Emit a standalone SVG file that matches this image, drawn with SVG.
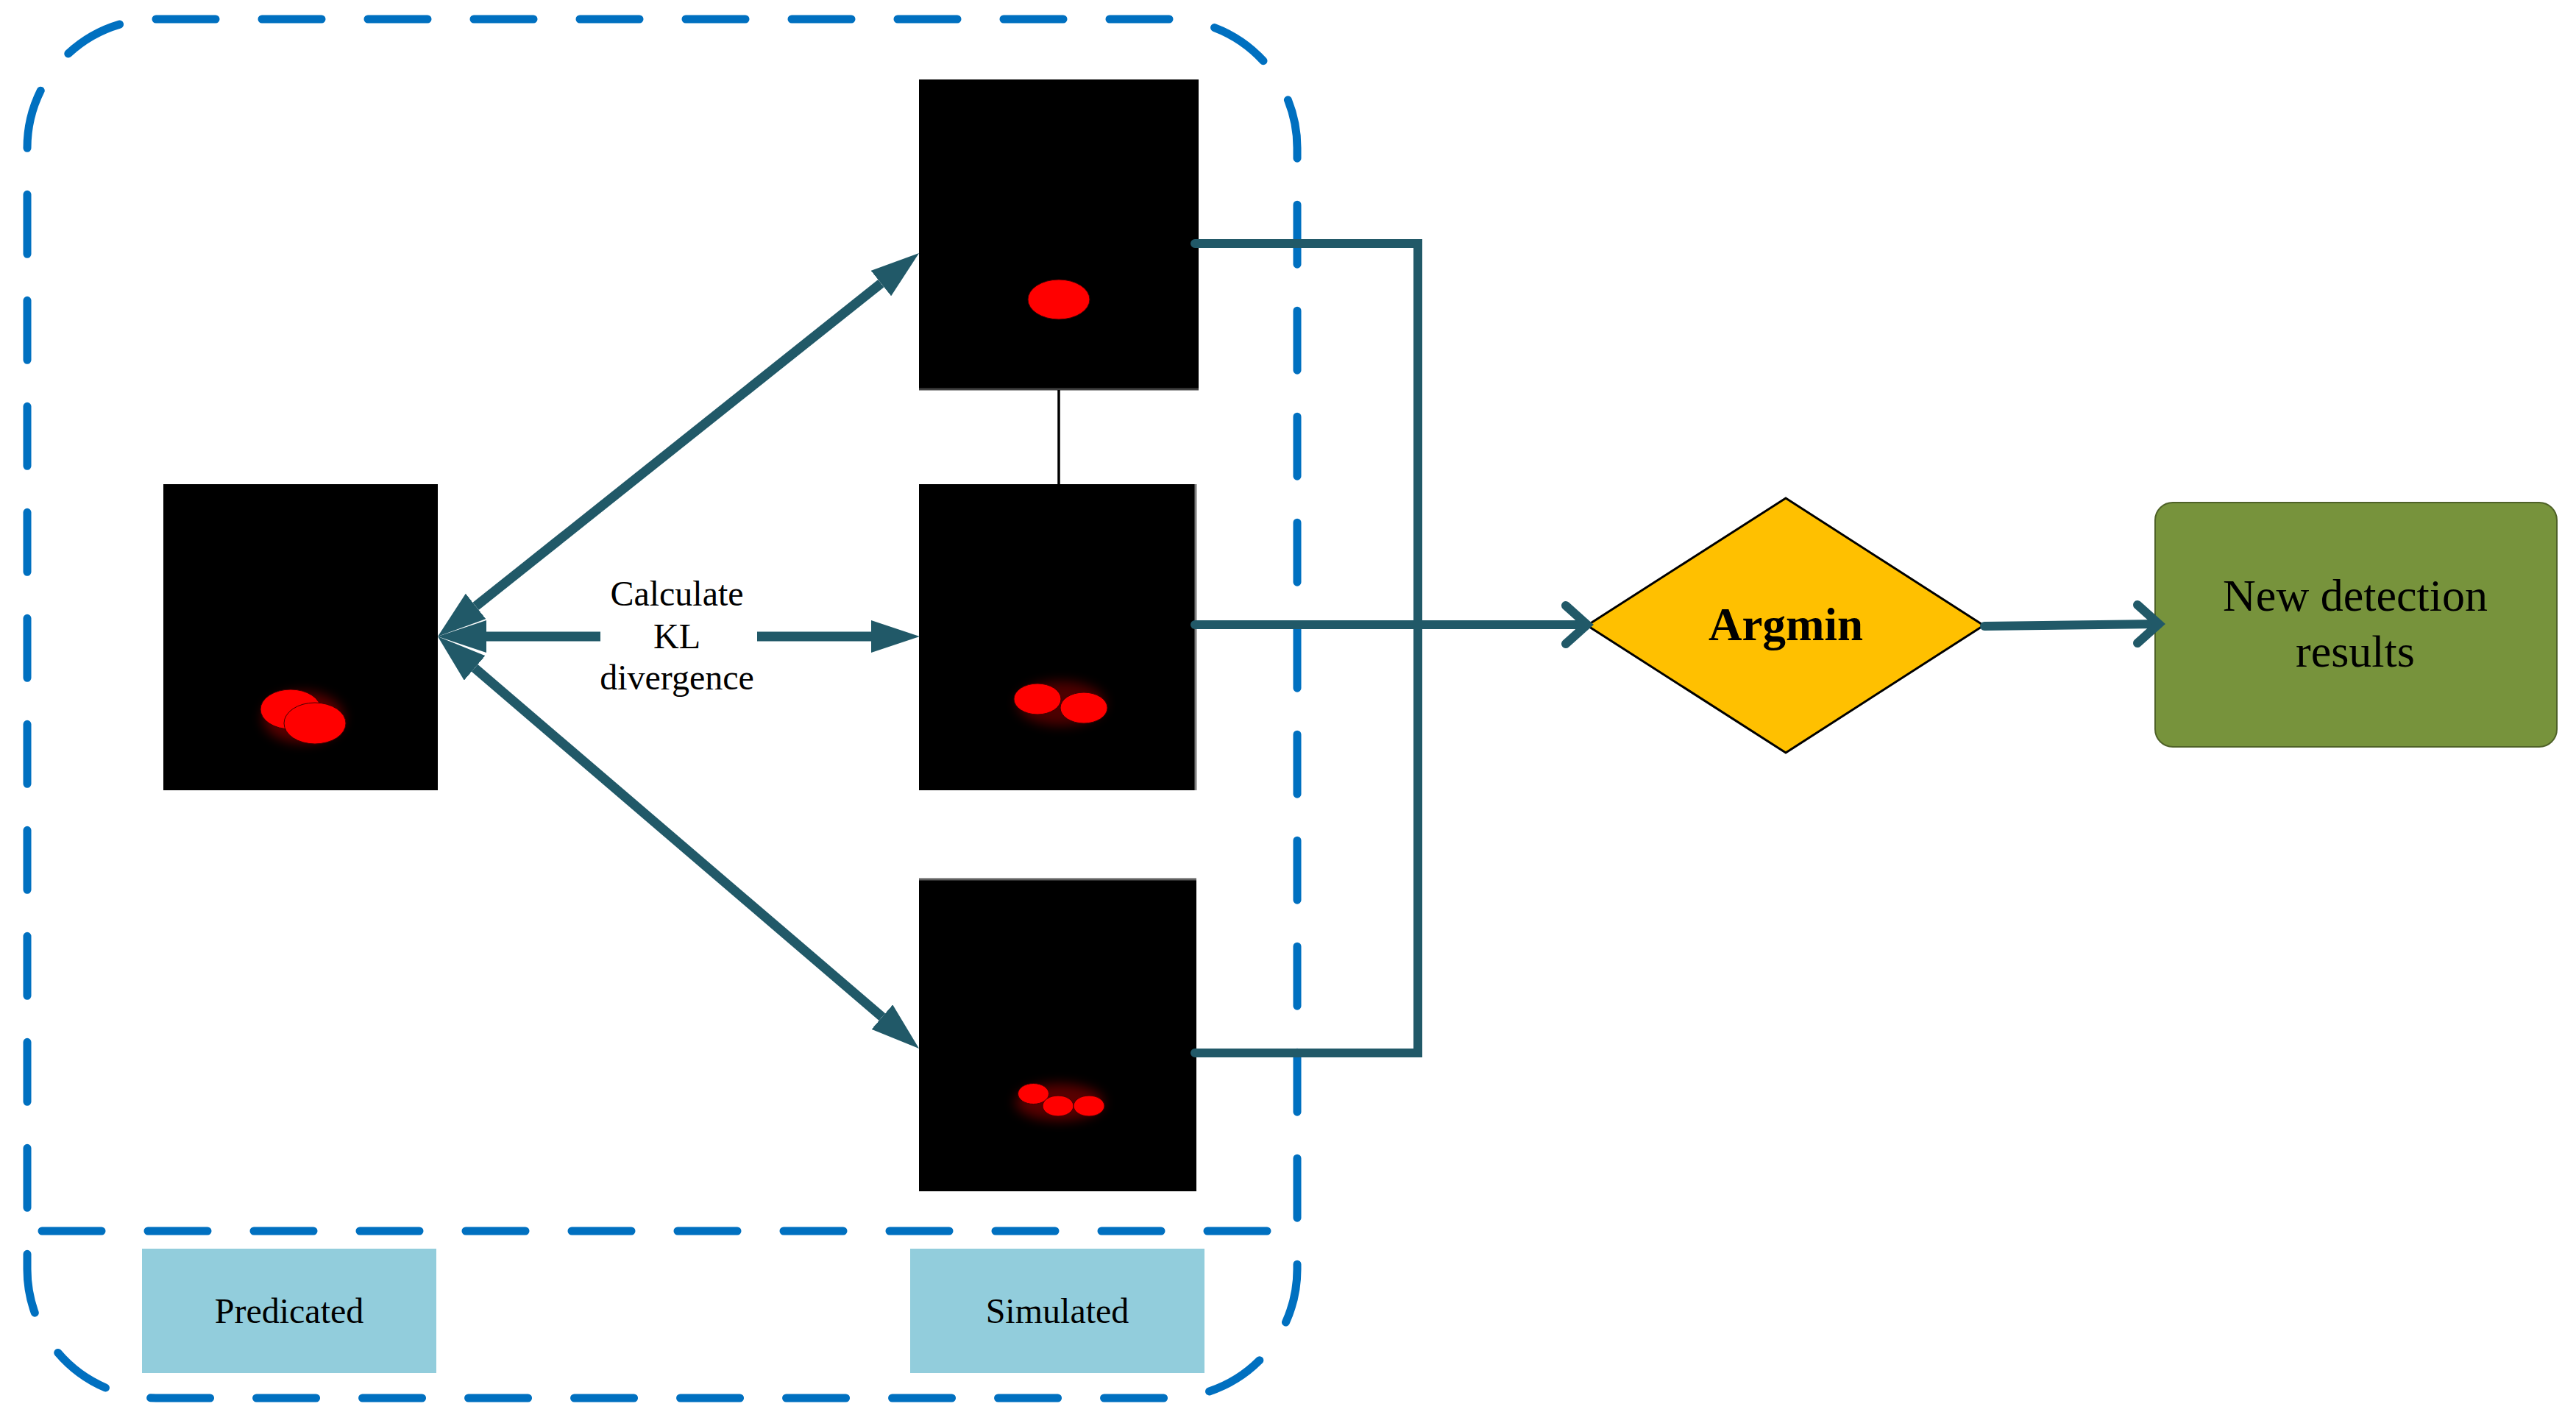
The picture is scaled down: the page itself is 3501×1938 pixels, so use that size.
<svg xmlns="http://www.w3.org/2000/svg" width="3501" height="1938" viewBox="0 0 3501 1938">
<style>
.dash{fill:none;stroke:#0070C0;stroke-width:11;stroke-dasharray:81 63;stroke-linecap:round}
.img{fill:#000}
.blob{fill:#FF0000;stroke:#400000;stroke-width:1}
.conn{fill:none;stroke:#215968;stroke-width:12;stroke-linecap:round}
.kl{fill:none;stroke:#215968;stroke-width:13}
.t{font-family:"Liberation Serif","Times New Roman",serif;fill:#000;text-anchor:middle}
.lab{fill:#92CDDC}
</style>
<defs>
<marker id="ah" markerUnits="userSpaceOnUse" markerWidth="66" markerHeight="44" viewBox="0 0 66 44" refX="0" refY="22" orient="auto-start-reverse">
<path d="M0,0 L66,22 L0,44 z" fill="#215968"/>
</marker>
<filter id="glow" x="-50%" y="-50%" width="200%" height="200%"><feGaussianBlur stdDeviation="8"/></filter>
</defs>

<g id="container">
<rect class="dash" x="37" y="26" width="1726" height="1874" rx="175" ry="175"/>
<line class="dash" x1="57" y1="1673" x2="1745" y2="1673"/>
</g>

<g id="predicted-image">
<rect class="img" x="222" y="658" width="373" height="416"/>
<ellipse cx="412" cy="975" rx="55" ry="35" fill="#FF0000" opacity="0.35" filter="url(#glow)"/>
<ellipse class="blob" cx="395" cy="964" rx="41" ry="27"/>
<ellipse class="blob" cx="428" cy="983" rx="42" ry="28"/>
</g>

<g id="simulated-1">
<rect class="img" x="1249" y="108" width="380" height="422"/>
<line x1="1249" y1="529" x2="1629" y2="529" stroke="#404040" stroke-width="3"/>
<ellipse class="blob" cx="1439" cy="407" rx="42" ry="27" stroke="none"/>
</g>

<g id="simulated-2">
<rect class="img" x="1249" y="658" width="377" height="416"/>
<line x1="1625" y1="658" x2="1625" y2="1074" stroke="#808080" stroke-width="3"/>
<ellipse cx="1442" cy="956" rx="60" ry="30" fill="#FF0000" opacity="0.3" filter="url(#glow)"/>
<ellipse class="blob" cx="1410" cy="950" rx="32" ry="21"/>
<ellipse class="blob" cx="1473" cy="962" rx="32" ry="21"/>
</g>

<g id="simulated-3">
<rect class="img" x="1249" y="1194" width="377" height="425"/>
<line x1="1249" y1="1195" x2="1626" y2="1195" stroke="#606060" stroke-width="3"/>
<ellipse cx="1440" cy="1498" rx="60" ry="25" fill="#FF0000" opacity="0.35" filter="url(#glow)"/>
<ellipse class="blob" cx="1404.5" cy="1486.5" rx="21" ry="14"/>
<ellipse class="blob" cx="1438" cy="1503" rx="21" ry="14"/>
<ellipse class="blob" cx="1480" cy="1503" rx="21" ry="14"/>
</g>

<g id="argmin">
<polygon points="2157,850 2427,677 2696,850 2427,1023" fill="#FFC000" stroke="#000" stroke-width="3"/>
<text class="t" x="2427" y="870" font-size="63" font-weight="bold">Argmin</text>
</g>

<g id="new-detection">
<rect x="2929" y="683" width="546" height="332" rx="24" ry="24" fill="#77933C" stroke="#4F6228" stroke-width="2"/>
<text class="t" x="3201" y="830" font-size="62">New detection</text>
<text class="t" x="3201" y="906" font-size="62">results</text>
</g>

<g id="label-predicated">
<rect class="lab" x="193" y="1697" width="400" height="169"/>
<text class="t" x="393" y="1798" font-size="48">Predicated</text>
</g>

<g id="label-simulated">
<rect class="lab" x="1237" y="1697" width="400" height="169"/>
<text class="t" x="1437" y="1798" font-size="48">Simulated</text>
</g>

<g id="kl-label">
<text class="t" x="920" y="823" font-size="48">Calculate</text>
<text class="t" x="920" y="881" font-size="48">KL</text>
<text class="t" x="920" y="937" font-size="48">divergence</text>
</g>

<g id="connectors">
<line class="kl" x1="646.6" y1="823.9" x2="1197.4" y2="385.1" marker-start="url(#ah)" marker-end="url(#ah)"/>
<line class="kl" x1="645.1" y1="907.9" x2="1198.9" y2="1382.1" marker-start="url(#ah)" marker-end="url(#ah)"/>
<line class="kl" x1="661" y1="865" x2="816" y2="865" marker-start="url(#ah)"/>
<line class="kl" x1="1029" y1="865" x2="1184" y2="865" marker-end="url(#ah)"/>
<line x1="1439" y1="530" x2="1439" y2="658" stroke="#000" stroke-width="3.5"/>
<polyline class="conn" points="1624,331 1927,331 1927,1431 1624,1431"/>
<line class="conn" x1="1624" y1="849" x2="2155" y2="849"/>
<polyline class="conn" points="2128,823 2157,849 2128,875"/>
<line class="conn" x1="2697" y1="851" x2="2932" y2="848"/>
<polyline class="conn" points="2905,822 2934,848 2905,874"/>
</g>
</svg>
